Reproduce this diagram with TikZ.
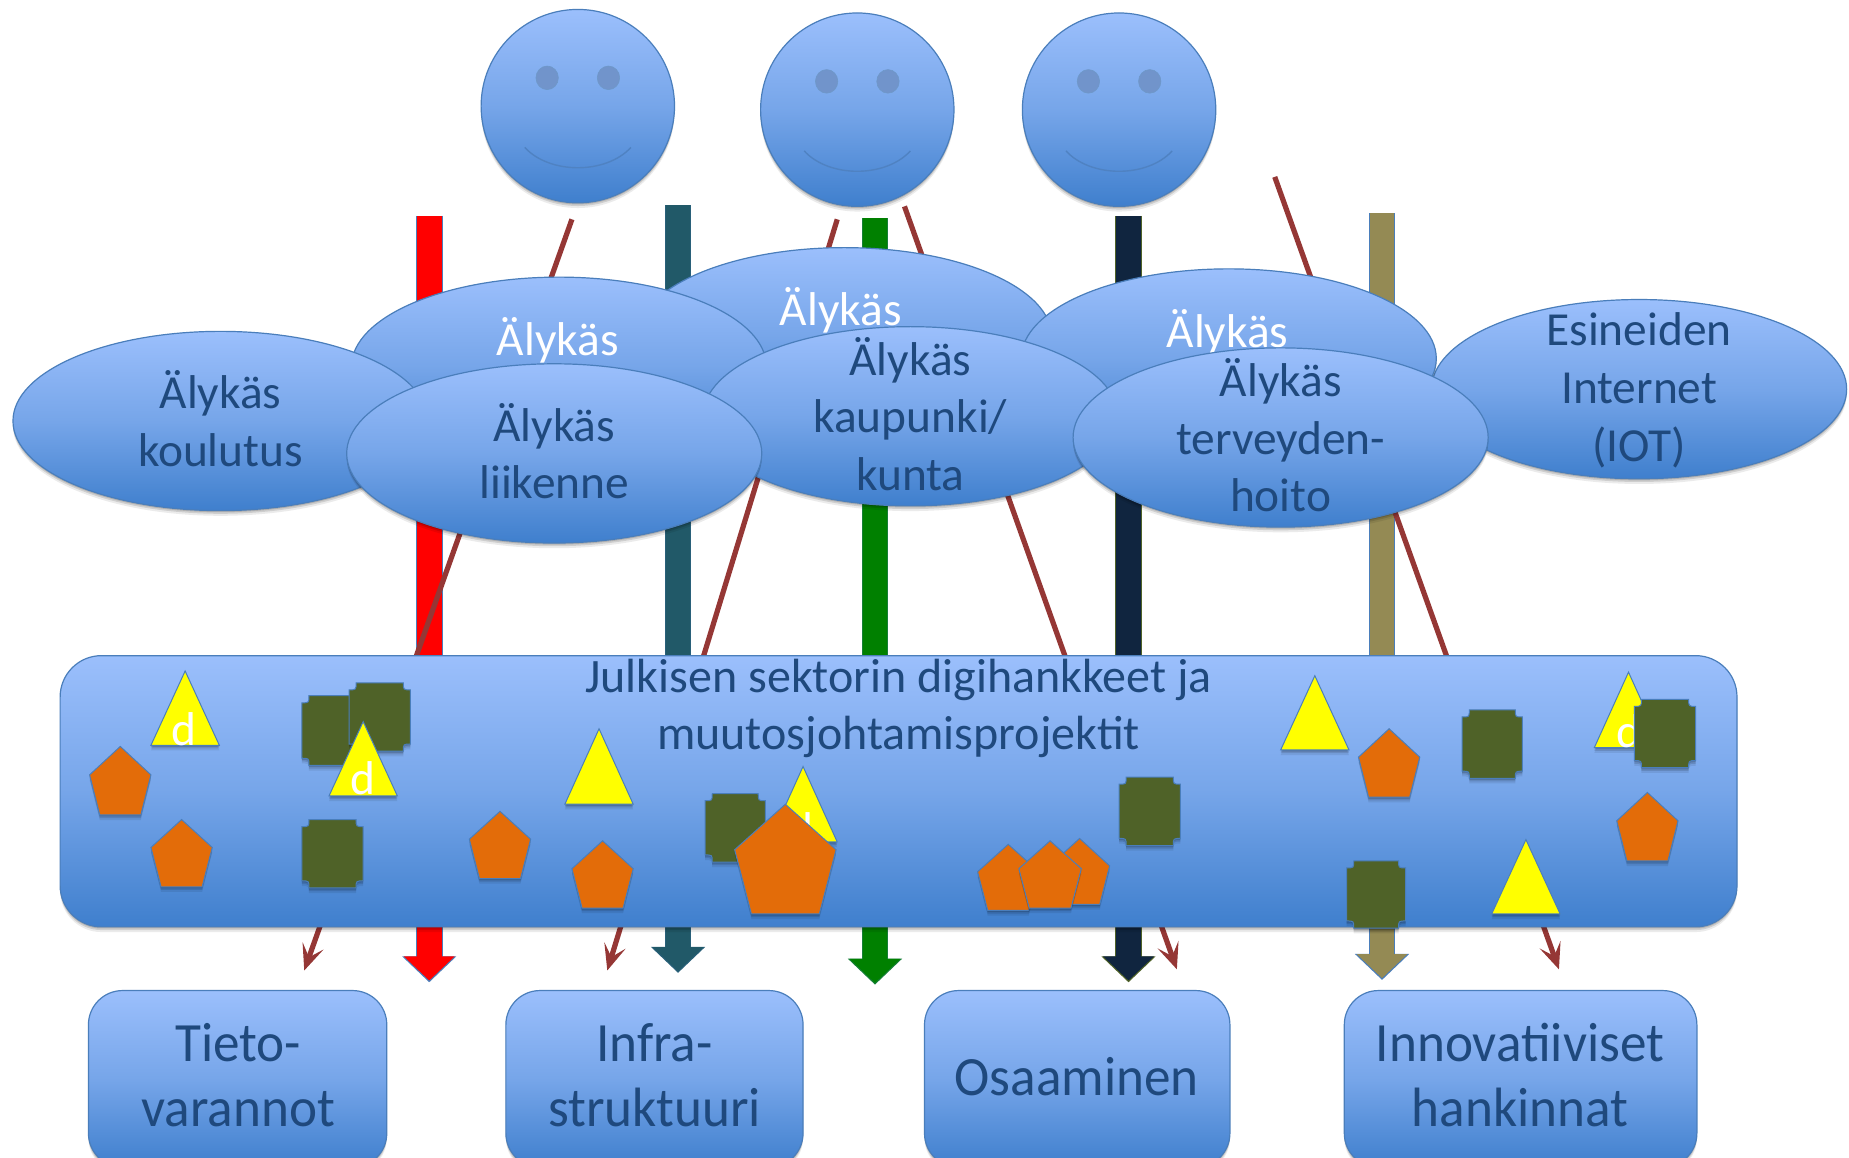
\documentclass[tikz,border=0pt]{standalone}
\usepackage{fontspec}
\setmainfont{Carlito}
\newfontfamily\tilefont[FakeStretch=.96]{Carlito}
\usetikzlibrary{shapes.geometric,arrows.meta,shadows}
\definecolor{gtop}{HTML}{9BBFFC}
\definecolor{gbot}{HTML}{3F7FCD}
\definecolor{edge}{HTML}{4A7EBB}
\definecolor{txt}{HTML}{1F497D}
\definecolor{lin}{HTML}{953735}
\definecolor{olive}{HTML}{4F6228}
\definecolor{orng}{HTML}{E36C09}
\definecolor{teal}{HTML}{215968}
\definecolor{navy}{HTML}{10253F}
\definecolor{grn}{HTML}{008000}
\definecolor{khak}{HTML}{948A54}
\definecolor{yel}{HTML}{FFFF00}
\definecolor{rd}{HTML}{FF0000}
\definecolor{eyec}{HTML}{7194CB}
\definecolor{mouthc}{HTML}{4F82C2}
\def\u{0.5895pt}
\tikzset{
  softshadow/.style={
    drop shadow={shadow xshift=0pt,shadow yshift=-.8pt,opacity=.14,fill=black},
    drop shadow={shadow xshift=0pt,shadow yshift=-1.6pt,opacity=.12,fill=black},
    drop shadow={shadow xshift=0pt,shadow yshift=-2.6pt,opacity=.08,fill=black}},
  grad/.style={top color=gtop,bottom color=gbot,middle color=gtop!60!gbot,draw=edge,line width=.6pt},
  bluebody/.style={grad,softshadow,text=txt,align=center,inner sep=0pt},
  oval/.style={bluebody,shape=ellipse,inner sep=-30pt,text depth=2.4pt,minimum width=352*\u,minimum height=152*\u,font=\fontsize{23.7}{28.9}\selectfont},
  whitetext/.style={text=white,font=\fontsize{23.7}{28.6}\selectfont,inner sep=0pt},
  face/.style={grad,softshadow,shape=circle,minimum size=164*\u,inner sep=0pt},
  board/.style={bluebody,shape=rectangle,rounded corners=35*\u,minimum width=1422*\u,minimum height=230*\u},
  boardtext/.style={text=txt,align=center,inner sep=0pt,font=\fontsize{24}{28.3}\selectfont},
  tilebox/.style={bluebody,shape=rectangle,rounded corners=29*\u,minimum height=150*\u},
  tiletext/.style={text=txt,align=center,inner sep=0pt,font=\tilefont\fontsize{27.7}{32.5}\selectfont},
  thinarrow/.style={draw=lin,line width=2.6pt,-{Stealth[length=13pt,width=11pt,inset=6pt]}},
  blockarrow/.style={draw=#1,line width=12.4pt,shorten >=.9pt,-{Triangle[length=12pt,width=24.6pt,fill=#1]}},
  blockedge/.style={draw=#1,line width=13.4pt,-{Triangle[length=13pt,width=26.4pt,fill=#1]}},
  tri/.style={fill=yel,draw=edge,line width=.5pt,softshadow},
  pent/.style={fill=orng,draw=edge,line width=.5pt,softshadow},
  oct/.style={fill=olive,draw=edge,line width=.5pt,softshadow},
  dmark/.style={text=white,inner sep=0pt,font=\fontsize{23.7}{28}\selectfont},
}
% face: name, centre x, y
\newcommand{\faceat}[3]{%
  \node[face] (#1) at (#2,#3) {};
  \fill[eyec,draw=edge!80,line width=.3pt] (#2-26,#3-24) ellipse [x radius=9.5,y radius=10];
  \fill[eyec,draw=edge!80,line width=.3pt] (#2+26,#3-24) ellipse [x radius=9.5,y radius=10];
  \draw[mouthc,line width=.7pt] (#2-45,#3+35) .. controls (#2-24,#3+58) and (#2+24,#3+58) .. (#2+45,#3+35);
}
% triangle: centre x, apex y, base y
\newcommand{\triat}[3]{\draw[tri] (#1,#2) -- (#1+29,#3) -- (#1-29,#3) -- cycle;}
% pentagon: left x, right x, top y, bottom y
\newcommand{\pentat}[4]{%
  \pgfmathsetmacro{\cx}{(#1+#2)/2}\pgfmathsetmacro{\hw}{(#2-#1)/2}%
  \pgfmathsetmacro{\my}{#3+.415*(#4-#3)}%
  \draw[pent] (\cx,#3) -- (#2,\my) -- (\cx+.67*\hw,#4) -- (\cx-.67*\hw,#4) -- (#1,\my) -- cycle;}
% plaque: left x, right x, top y, bottom y
\newcommand{\octat}[4]{%
  \def\r{6}%
  \draw[oct] (#1+\r,#3) -- (#2-\r,#3) .. controls (#2-\r,#3+\r) .. (#2,#3+\r) -- (#2,#4-\r)
    .. controls (#2-\r,#4-\r) .. (#2-\r,#4) -- (#1+\r,#4) .. controls (#1+\r,#4-\r) .. (#1,#4-\r)
    -- (#1,#3+\r) .. controls (#1+\r,#3+\r) .. (#1+\r,#3) -- cycle;}
\begin{document}
\begin{tikzpicture}[x=\u,y=-\u]
\path[use as bounding box,clip] (0,0) rectangle (1568,982);
\fill[white] (0,0) rectangle (1568,982);

% free ends of the connectors
\coordinate (ra) at (364,183); \coordinate (rb) at (364,833);
\coordinate (ta) at (575,174); \coordinate (tb) at (575,825);
\coordinate (ga) at (742,185); \coordinate (gb) at (742,835);
\coordinate (na) at (957,183); \coordinate (nb) at (957,833);
\coordinate (ka) at (1172,181); \coordinate (kb) at (1172,831);
\coordinate (la) at (485,186); \coordinate (lb) at (258,823);
\coordinate (ma) at (710,186); \coordinate (mb) at (515,823);
\coordinate (pa) at (767,175); \coordinate (pb) at (998,822);
\coordinate (qa) at (1081,150); \coordinate (qb) at (1322,822);

% block arrows
\draw[blockedge=edge] (ra) -- (rb);   \draw[blockarrow=rd] (ra) -- (rb);
\draw[blockedge=teal!80!edge] (ta) -- (tb);  \draw[blockarrow=teal] (ta) -- (tb);
\draw[blockedge=grn!70!edge] (ga) -- (gb);   \draw[blockarrow=grn] (ga) -- (gb);
\draw[blockedge=olive] (na) -- (nb);  \draw[blockarrow=navy] (na) -- (nb);
\draw[blockedge=edge] (ka) -- (kb);   \draw[blockarrow=khak] (ka) -- (kb);

% thin arrows
\draw[thinarrow] (la) -- (lb);
\draw[thinarrow] (ma) -- (mb);
\draw[thinarrow] (pa) -- (pb);
\draw[thinarrow] (qa) -- (qb);

% faces
\faceat{f1}{490}{90}
\faceat{f2}{727}{93}
\faceat{f3}{949}{93}

% ovals, back to front
\node[oval] (e3) at (716,286) {};
\node[whitetext] (e3t) at (713,263) {Älykäs};
\node[oval] (e2) at (474,311) {};
\node[whitetext] (e2t) at (473,289) {Älykäs};
\node[oval] (e1) at (187,357) {Älykäs\\koulutus};
\node[oval] (e8) at (1390,330) {Esineiden\\Internet\\(IOT)};
\node[oval] (e4) at (1042,304) {};
\node[whitetext] (e4t) at (1041,282) {Älykäs};
\node[oval] (e6) at (772,353) {Älykäs\\kaupunki/\\kunta};
\node[oval] (e5) at (470,384.5) {Älykäs\\liikenne};
\node[oval] (e7) at (1086,371) {Älykäs\\terveyden-\\hoito};

% board
\node[board] (board) at (762,671) {};
\node[boardtext] (boardt) at (762,601) {Julkisen sektorin digihankkeet ja\\muutosjohtamisprojektit};

% small shapes
\triat{157}{569}{632}
\node[dmark] (d1) at (156,618) {d};
\octat{256}{308}{590}{649}
\octat{296}{348}{579}{637}
\triat{308}{612}{675}
\node[dmark] (d2) at (308,660) {d};
\triat{508}{618}{682}
\pentat{76}{128}{633}{691}
\pentat{128}{180}{695}{752}
\octat{256}{308}{695}{753}
\pentat{398}{450}{688}{745}
\pentat{485}{537}{713}{770}
\octat{598}{649}{673}{731}
\triat{681}{650}{714}
\node[dmark] (d3) at (679,703) {d};
\pentat{623}{709}{682}{775}
\octat{949}{1001}{659}{717}
\pentat{890}{941}{711}{767}
\pentat{829}{881}{716}{772}
\pentat{864}{917}{713}{770}
\triat{1115}{573}{636}
\pentat{1152}{1204}{618}{676}
\octat{1240}{1291}{602}{660}
\triat{1381}{570}{634}
\node[dmark] (d4) at (1381,620) {d};
\octat{1386}{1438}{593}{651}
\pentat{1371}{1423}{672}{730}
\triat{1294}{712}{775}
\octat{1142}{1192}{730}{787}

% bottom boxes
\node[tilebox,minimum width=253*\u] (b1) at (201.5,915) {};
\node[tilebox,minimum width=252*\u] (b2) at (555,915) {};
\node[tilebox,minimum width=259*\u] (b3) at (913.5,915) {};
\node[tilebox,minimum width=299*\u] (b4) at (1289.5,915) {};
\node[tiletext] (b1t) at (202,912) {Tieto-\\varannot};
\node[tiletext] (b2t) at (555,912) {Infra-\\struktuuri};
\node[tiletext] (b3t) at (913,913) {Osaaminen};
\node[tiletext] (b4t) at (1289,912) {Innovatiiviset\\hankinnat};
\end{tikzpicture}
\end{document}
